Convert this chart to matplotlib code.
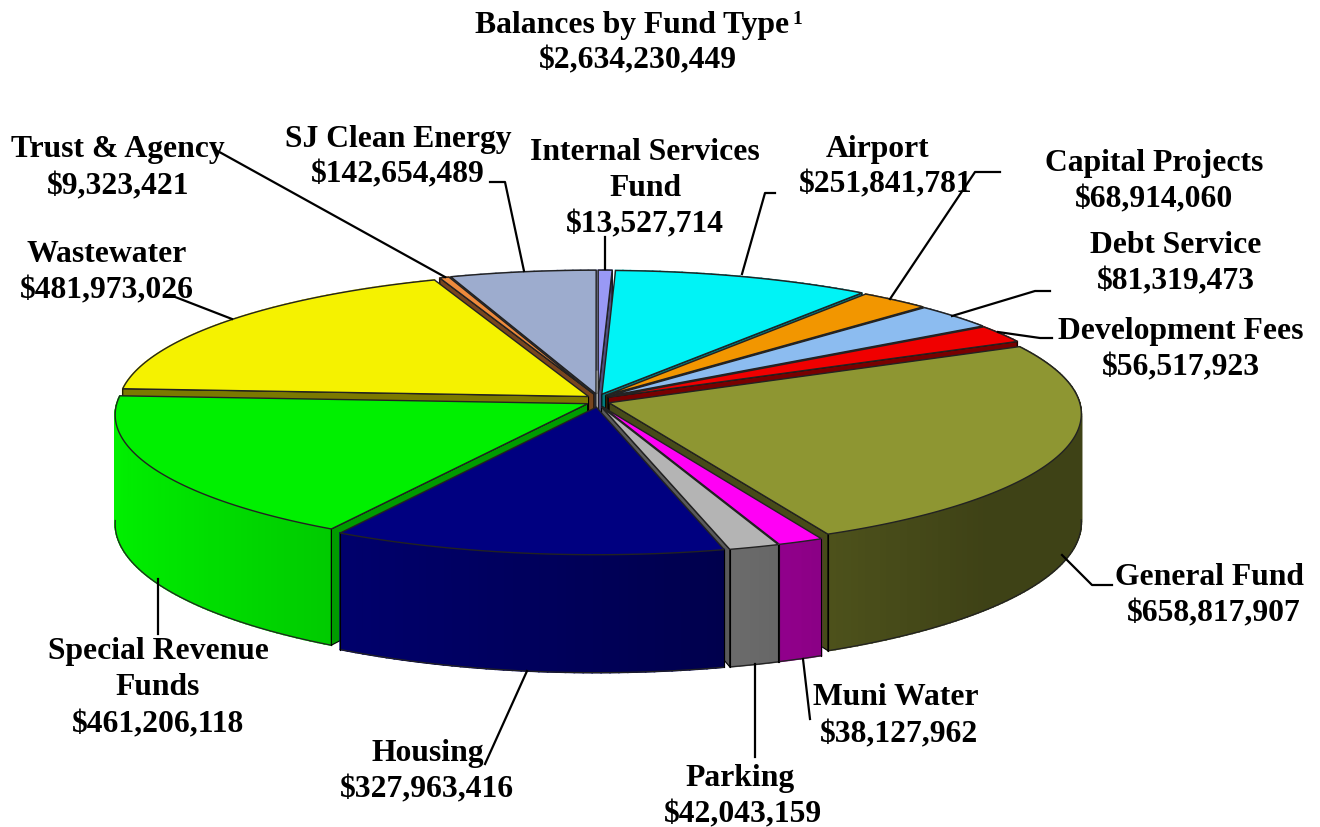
import numpy as np
import matplotlib
matplotlib.use('Agg')
import matplotlib.pyplot as plt
from matplotlib.colors import to_rgb

# Fund data, clockwise from 12 o'clock
funds = ['Internal Services Fund', 'Airport', 'Capital Projects', 'Debt Service',
         'Development Fees', 'General Fund', 'Muni Water', 'Parking', 'Housing',
         'Special Revenue Funds', 'Wastewater', 'Trust & Agency', 'SJ Clean Energy']
balances = [13527714, 251841781, 68914060, 81319473, 56517923, 658817907, 38127962,
            42043159, 327963416, 461206118, 481973026, 9323421, 142654489]
colors = ['#9999f5', '#00f3f6', '#f29600', '#8cbcf0', '#f00000', '#8e9632', '#ff00f5',
          '#b4b4b4', '#000080', '#00f000', '#f5f200', '#ee8a3c', '#9dacce']
total_label = '$2,634,230,449'

# Geometry of the tilted pie, in pixels
cx, cy = 598, 401.5
rx, ry = 470, 134.6
depth = 108
persp = 0.08
explode_u, explode_v = 0.025, 0.05


def project(u, v, z=0.0):
    w = 1 + persp * v
    return cx + rx * u / w, cy - ry * v / w + depth * z / w


def darker(color, f):
    return tuple(min(1, c * f) for c in to_rgb(color))


fig = plt.figure(figsize=(13.2, 8.28), dpi=100)
ax = fig.add_axes([0, 0, 1, 1])
ax.set_xlim(0, 1320)
ax.set_ylim(828, 0)
ax.axis('off')

# Slice angles from the balances
edges = np.concatenate([[0], np.cumsum(balances)]) / sum(balances) * 2 * np.pi
mids = (edges[:-1] + edges[1:]) / 2

# Back slices first so the front ones paint over them
for i in np.argsort(-np.cos(mids)):
    col = colors[i]
    a0, a1 = edges[i], edges[i + 1]
    ou, ov = explode_u * np.sin(mids[i]), explode_v * np.cos(mids[i])
    t = np.linspace(a0, a1, max(int((a1 - a0) * 60), 4))
    u = ou + np.sin(t)
    v = ov + np.cos(t)

    # outer wall, shaded from left to right
    for j in range(len(t) - 1):
        shade = np.clip(0.68 - 0.32 * np.sin((t[j] + t[j + 1]) / 2), 0.44, 1)
        pts = [project(u[j], v[j]), project(u[j + 1], v[j + 1]),
               project(u[j + 1], v[j + 1], 1), project(u[j], v[j], 1)]
        wall = darker(col, shade)
        ax.fill(*zip(*pts), fc=wall, ec=wall, lw=1.2, zorder=2)
    front = np.cos(t) < -0.05
    if front.any():
        fx, fy = project(u[front], v[front], 1)
        ax.plot(fx, fy, color='#222222', lw=0.9, zorder=2)
        # corner lines only where the slice really ends
        for k in (0, len(t) - 1):
            if np.cos(t[k]) < 0:
                lx, ly = zip(project(u[k], v[k]), project(u[k], v[k], 1))
                ax.plot(lx, ly, color='black', lw=0.8, zorder=2)

    # radial side walls, only the faces turned towards the viewer
    for a, turned in ((a0, np.sin(a0) < 0), (a1, np.sin(a1) > 0)):
        if turned:
            ru, rv = ou + np.sin(a), ov + np.cos(a)
            pts = [project(ou, ov), project(ru, rv), project(ru, rv, 1), project(ou, ov, 1)]
            ax.fill(*zip(*pts), color=darker(col, 0.5 if col != '#00f000' else 0.65),
                    ec='black', lw=0.8, zorder=2)

    # top face
    tx, ty = project(np.r_[ou, u], np.r_[ov, v])
    ax.fill(tx, ty, color=col, ec='#222222', lw=1.0, zorder=2)

# Leader lines
leaders = [
    [(214, 150), (445, 278)],
    [(490, 183), (505, 183), (524, 272)],
    [(605, 238), (605, 270)],
    [(775, 194), (765, 194), (742, 275)],
    [(1000, 173), (975, 173), (890, 300)],
    [(1050, 292), (1035, 292), (952, 317)],
    [(998, 333), (1040, 339), (1052, 339)],
    [(1112, 586), (1092, 586), (1062, 556)],
    [(803, 660), (810, 720)],
    [(755, 665), (755, 758)],
    [(527, 672), (485, 765)],
    [(158, 580), (158, 635)],
    [(170, 296), (232, 320)],
]
for line in leaders:
    ax.plot(*zip(*line), color='black', lw=1.6, zorder=3)


def money(v):
    return f'${v:,}'


font = dict(family='Liberation Serif', fontweight='bold', fontsize=22.8, color='black',
            ha='center', va='center', zorder=4)
nudge = 3  # text sits a little lower than its box centre

ax.text(632, 22 + nudge, 'Balances by Fund Type', **font)
ax.text(797, 19, '1', **{**font, 'fontsize': 14})
ax.text(638, 58 + nudge, total_label, **font)

# Labels line by line
label_spots = [
    (['Internal Services', 'Fund'], 645, 150, 645, 222),
    (['Airport'], 878, 146, 886, 182),
    (['Capital Projects'], 1154, 161, 1154, 197),
    (['Debt Service'], 1176, 243, 1176, 279),
    (['Development Fees'], 1181, 329, 1181, 365),
    (['General Fund'], 1209, 575, 1214, 611),
    (['Muni Water'], 896, 695, 899, 732),
    (['Parking'], 740, 776, 743, 812),
    (['Housing'], 428, 751, 427, 787),
    (['Special Revenue', 'Funds'], 158, 649, 158, 722),
    (['Wastewater'], 107, 252, 107, 288),
    (['Trust & Agency'], 118, 147, 118, 184),
    (['SJ Clean Energy'], 398, 136, 398, 172),
]
for (names, nx, ny, vx, vy), bal in zip(label_spots, balances):
    for k, name in enumerate(names):
        ax.text(nx, ny + nudge + 36 * k, name, **font)
    ax.text(vx, vy + nudge, money(bal), **font)

fig.savefig('out.png', dpi=100)
